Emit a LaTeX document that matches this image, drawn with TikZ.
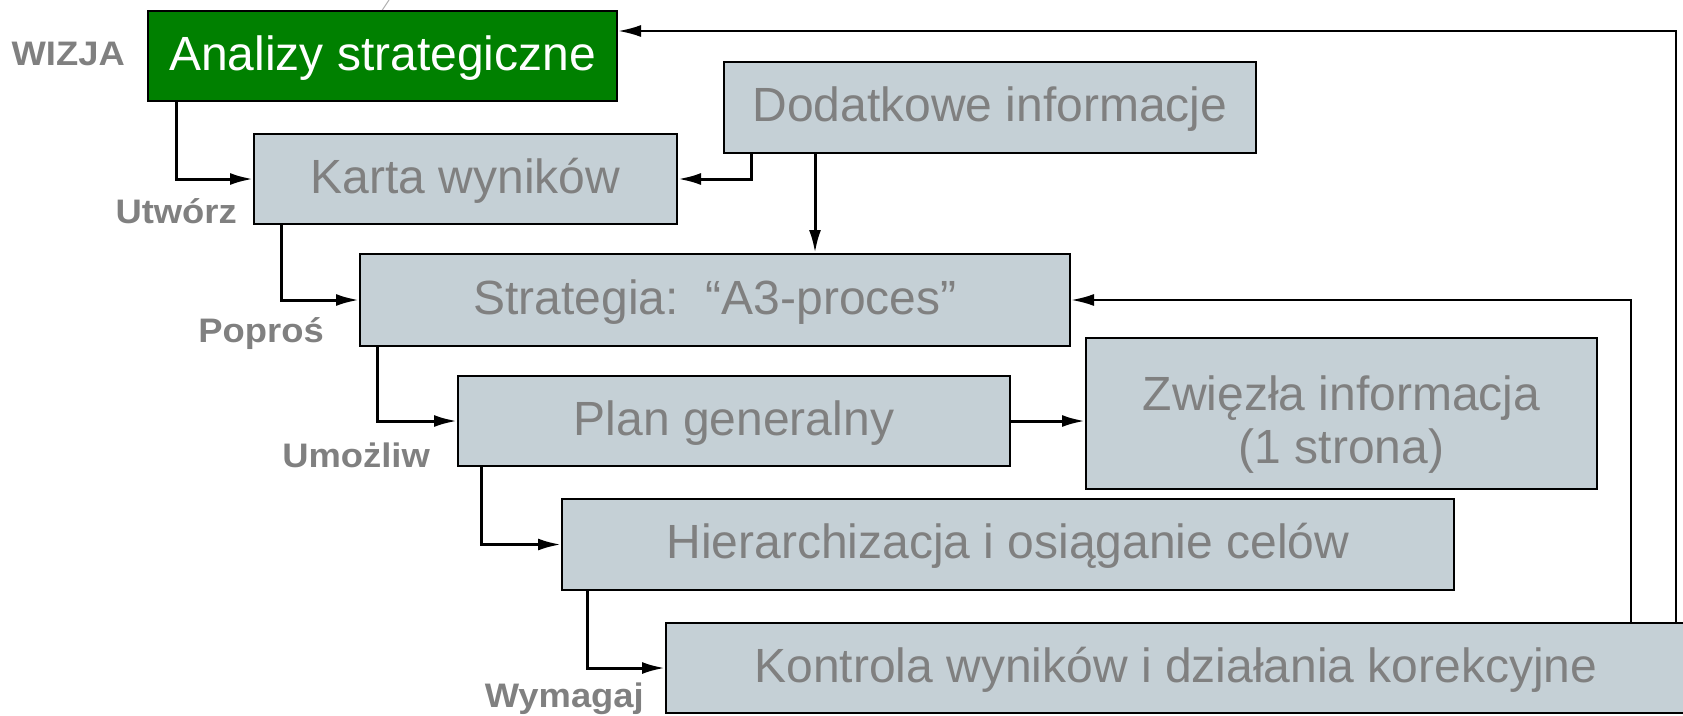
\documentclass[tikz,border=0pt]{standalone}
\usepackage{fontspec}
\setmainfont{Liberation Sans}
\newfontfamily\verbfont{Liberation Sans}[FakeStretch=1.07]
\usetikzlibrary{arrows.meta}

\definecolor{boxgray}{RGB}{197,208,214}
\definecolor{textgray}{RGB}{128,128,128}
\definecolor{visiongreen}{RGB}{0,128,0}

\tikzstyle{block}=[draw, line width=2pt, fill=boxgray, text=textgray, inner sep=0pt, align=center, font=\fontsize{48}{53}\selectfont]
\tikzstyle{oneline}=[text height=36pt, text depth=8pt]
\tikzstyle{greenblock}=[block, oneline, fill=visiongreen, text=white]
\tikzstyle{verb}=[text=textgray, inner sep=0pt, anchor=base east, font=\verbfont\bfseries\fontsize{34}{38}\selectfont]
\tikzstyle{dep}=[-{Latex[length=23pt,width=12pt]}, line width=3pt]

\begin{document}
\begin{tikzpicture}[x=1pt, y=-1pt]
      \useasboundingbox (0,0) rectangle (1683,715);
      \draw[textgray!60, line width=1pt] (389,0) -- (381,12);

      \node[greenblock, minimum width=469pt, minimum height=90pt] (anal) at (382.5,56) {Analizy strategiczne};
      \node[block, oneline, minimum width=423pt, minimum height=90pt] (karta) at (465.5,179) {Karta wyników};
      \node[block, oneline, minimum width=532pt, minimum height=91pt] (dod) at (990,107.5) {Dodatkowe informacje};
      \node[block, oneline, minimum width=710pt, minimum height=92pt] (strat) at (715,300) {Strategia:~~“A3-proces”};
      \node[block, oneline, minimum width=552pt, minimum height=90pt] (plan) at (734,421) {Plan generalny};
      \node[block, minimum width=511pt, minimum height=151pt] (zwi) at (1341.5,413.5) {\rule{0pt}{56pt}Zwięzła informacja\\(1 strona)};
      \node[block, oneline, minimum width=892pt, minimum height=91pt] (hier) at (1008,544.5) {Hierarchizacja i osiąganie celów};
      \node[block, oneline, minimum width=1020pt, minimum height=90pt] (kon) at (1176,668) {Kontrola wyników i działania korekcyjne};

      \node[verb] (wizja) at (125,65) {WIZJA};
      \node[verb] (utworz) at (237,223) {Utwórz};
      \node[verb] (popros) at (324,342) {Poproś};
      \node[verb] (umozliw) at (430,467) {Umożliw};
      \node[verb] (wymagaj) at (644,707) {Wymagaj};

      \draw[dep] ([xshift=29pt]anal.south west) |- (karta.west);
      \draw[dep] ([xshift=28pt]karta.south west) |- (strat.west);
      \draw[dep] ([xshift=18pt]strat.south west) |- (plan.west);
      \draw[dep] ([xshift=24pt]plan.south west) |- (hier.west);
      \draw[dep] ([xshift=26pt]hier.south west) |- (kon.west);
      \draw[dep] ([xshift=28pt]dod.south west) |- (karta.east);
      \draw[dep] ([xshift=92pt]dod.south west) -- ([xshift=92pt]dod.south west |- strat.north);
      \draw[dep] (plan.east) -- (plan.east -| zwi.west);
      \draw[dep, line width=2.5pt] ([xshift=966pt]kon.north west) |- (strat.east);
      \draw[dep, line width=2.5pt] ([xshift=1011pt]kon.north west) |- ([yshift=-21pt]anal.north east);
    \end{tikzpicture}
\end{document}
